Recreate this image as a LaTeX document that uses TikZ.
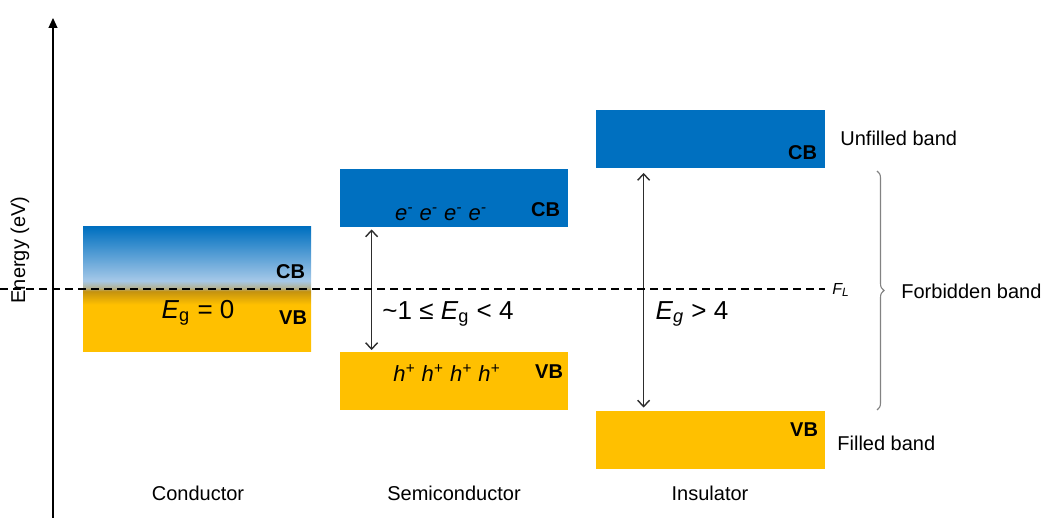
\documentclass[tikz,border=0pt]{standalone}
\usepackage{fontspec}
\setmainfont{Liberation Sans}
\usepackage{xcolor}
\usepackage{tikz}
\usetikzlibrary{arrows.meta, positioning, decorations.pathreplacing}
\definecolor{bandblue}{RGB}{0, 112, 192}
\definecolor{bandgold}{RGB}{255, 192, 0}
\definecolor{lightsky}{RGB}{165, 200, 232}
\definecolor{darkgold}{RGB}{196, 146, 16}
\definecolor{edgemix}{RGB}{178, 178, 150}
\definecolor{arrowgray}{RGB}{45, 45, 45}
\definecolor{bracegray}{RGB}{130, 130, 130}
\pgfdeclareverticalshading{condshade}{100bp}{color(0bp)=(bandgold); color(25bp)=(bandgold); color(44bp)=(bandgold); color(49.3bp)=(darkgold); color(50.7bp)=(edgemix); color(53.5bp)=(lightsky); color(75bp)=(bandblue); color(100bp)=(bandblue)}

\begin{document}
\begin{tikzpicture}[
    x=0.5pt, y=-0.5pt,
    font=\fontsize{10}{12}\selectfont,
    % Styles
    band/.style={fill=#1, inner sep=0pt, minimum width=114pt, minimum height=29pt},
    bandlbl/.style={font=\fontsize{10}{12}\selectfont\bfseries, anchor=east, inner sep=0pt},
    gaplbl/.style={font=\fontsize{13}{15}\selectfont},
    carrier/.style={font=\fontsize{11}{13}\selectfont\itshape},
    gaparrow/.style={{Straight Barb[length=3.2pt,width=6pt]}-{Straight Barb[length=3.2pt,width=6pt]}, arrowgray, line width=0.7pt},
    fermi/.style={dash pattern=on 4pt off 2.5pt, line width=0.75pt},
    sidelbl/.style={anchor=west, inner sep=0pt}
]
    \useasboundingbox (0,0) rectangle (1041,518);

    % Energy axis
    \coordinate (axbot) at (53,518);
    \coordinate (axtop) at (53,18);
    \draw [-{Triangle[length=5pt,width=4.5pt]}, line width=0.6pt] (axbot) -- (axtop);
    \node (energy) [rotate=90] at (20,250) {Energy (eV)};

    % Conductor
    \node (cond) [band=bandblue, shade, shading=condshade, minimum height=62.5pt] at (197,289.5) {};
    \node (condcb) [bandlbl] at ([xshift=-3pt, yshift=8.75pt]cond.east) {CB};
    \node (condvb) [bandlbl] at ([xshift=-2pt, yshift=-14.25pt]cond.east) {VB};

    % Semiconductor
    \node (scb) [band=bandblue] at (454,198) {};
    \node (svb) [band=bandgold] at (454,381.5) {};
    \node (scblbl) [bandlbl] at ([xshift=-4pt, yshift=-6pt]scb.east) {CB};
    \node (svblbl) [bandlbl] at ([xshift=-2.5pt, yshift=4.75pt]svb.east) {VB};
    \draw [gaparrow] ([xshift=16pt, yshift=-1pt]scb.south west) -- ([xshift=16pt, yshift=1pt]svb.north west);

    % Insulator
    \node (icb) [band=bandblue, minimum width=114.5pt] at (710.5,139.5) {};
    \node (ivb) [band=bandgold, minimum width=114.5pt] at (710.5,440) {};
    \node (icblbl) [bandlbl] at ([xshift=-4pt, yshift=-6.5pt]icb.east) {CB};
    \node (ivblbl) [bandlbl] at ([xshift=-3.5pt, yshift=5pt]ivb.east) {VB};
    \draw [gaparrow] ([xshift=24pt, yshift=-2pt]icb.south west) -- ([xshift=24pt, yshift=1.5pt]ivb.north west);

    % Fermi level
    \coordinate (fl0) at (0,289);
    \coordinate (fl1) at (825,289);
    \draw [fermi] (fl0) -- (fl1);
    \node (fl) [sidelbl, font=\fontsize{8}{10}\selectfont\itshape] at (832,290) {F\textsubscript{L}};

    % Gap labels and carriers
    \node (eg0) [gaplbl] at (198,313) {\textit{E}\textsubscript{g} = 0};
    \node (egs) [gaplbl] at (448,314) {\textasciitilde1 ≤ \textit{E}\textsubscript{g} < 4};
    \node (egi) [gaplbl] at (692,314) {\textit{E\textsubscript{g}} > 4};
    \node (elec) [carrier] at (441,214) {e\textsuperscript{-} e\textsuperscript{-} e\textsuperscript{-} e\textsuperscript{-}};
    \node (hole) [carrier] at (447,373) {h\textsuperscript{+} h\textsuperscript{+} h\textsuperscript{+} h\textsuperscript{+}};

    % Forbidden band brace
    \coordinate (brtop) at (877,171);
    \coordinate (brbot) at (877,410);
    \draw [bracegray, line width=0.55pt, decorate, decoration={brace, amplitude=3.5pt}] (brtop) -- (brbot);

    % Side labels
    \node (unfilled) [sidelbl] at (840,138) {Unfilled band};
    \node (forbid) [sidelbl] at (901,291) {Forbidden band};
    \node (filled) [sidelbl] at (837,443) {Filled band};

    % Material names
    \node (lcond) at (198,493) {Conductor};
    \node (lsemi) at (454,493) {Semiconductor};
    \node (lins) at (710,493) {Insulator};

\end{tikzpicture}
\end{document}
